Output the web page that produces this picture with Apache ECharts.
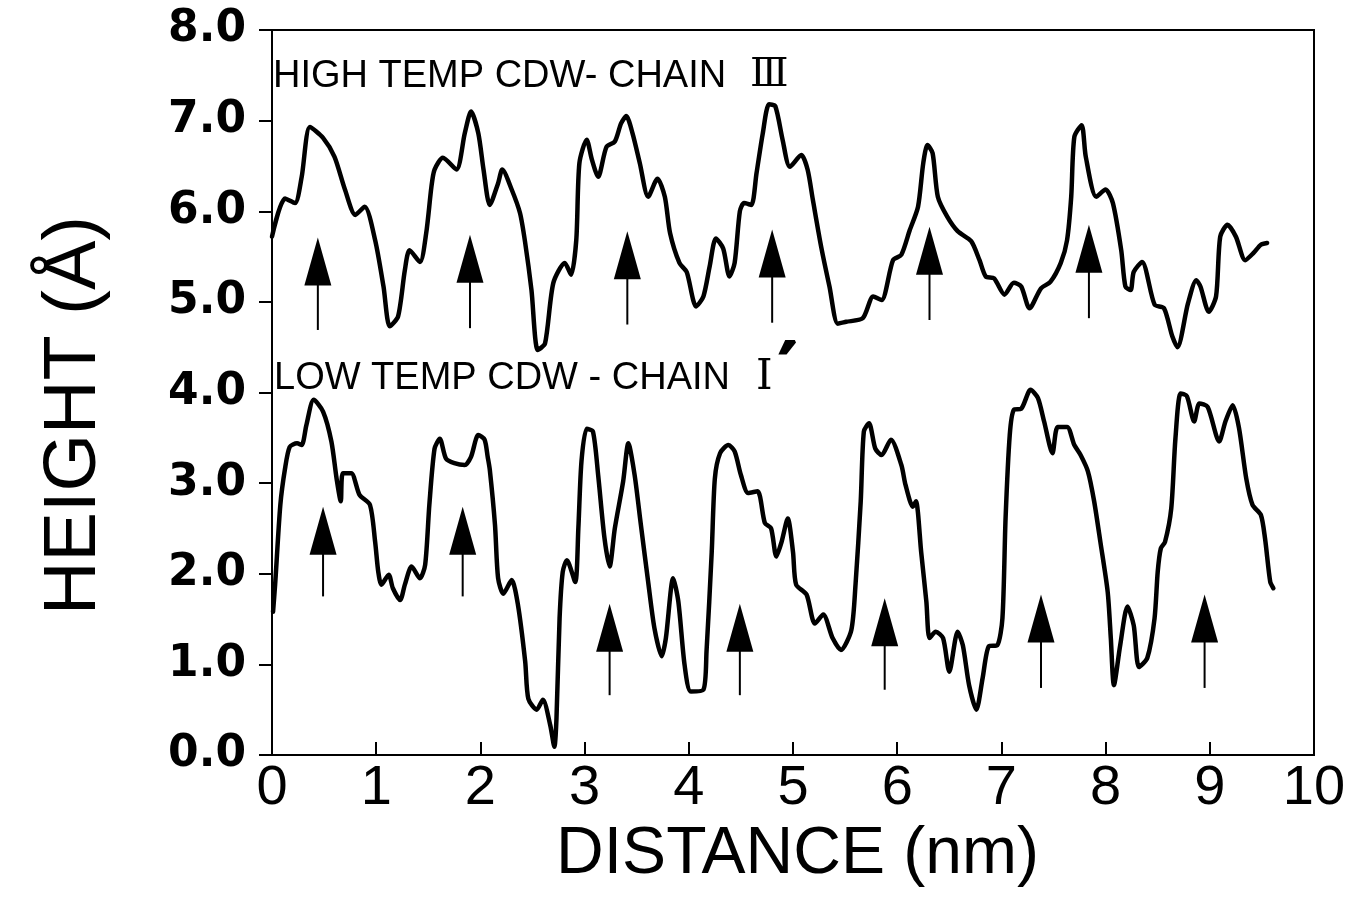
<!DOCTYPE html>
<html>
<head>
<meta charset="utf-8">
<script src="https://cdn.jsdelivr.net/npm/echarts@6/dist/echarts.min.js"></script>
<style>
html,body{margin:0;padding:0;background:#fff;}
#chart{width:1357px;height:906px;}
</style>
</head>
<body>
<div id="chart"></div>
<script>
// ---- data ----
const highX = [0.00,0.125,0.22,0.285,0.364,0.49,0.60,0.70,0.80,0.89,0.99,1.07,1.13,1.21,1.275,1.32,1.42,1.48,1.53,1.56,1.64,1.77,1.85,1.91,1.98,2.03,2.09,2.17,2.21,2.30,2.38,2.43,2.49,2.55,2.62,2.70,2.81,2.87,2.92,2.95,3.02,3.07,3.13,3.21,3.29,3.35,3.40,3.46,3.53,3.61,3.70,3.77,3.82,3.91,3.98,4.07,4.14,4.20,4.26,4.33,4.39,4.44,4.49,4.53,4.60,4.65,4.71,4.77,4.83,4.90,4.97,5.08,5.14,5.19,5.27,5.35,5.43,5.51,5.67,5.77,5.85,5.96,6.04,6.12,6.20,6.25,6.29,6.34,6.39,6.48,6.58,6.71,6.79,6.85,6.93,7.03,7.12,7.19,7.27,7.38,7.47,7.57,7.63,7.67,7.70,7.77,7.81,7.91,8.00,8.07,8.15,8.19,8.24,8.27,8.35,8.47,8.56,8.64,8.69,8.79,8.87,8.91,8.99,9.06,9.10,9.17,9.25,9.34,9.42,9.49,9.55];
const highY = [5.72,6.14,6.09,6.38,6.93,6.81,6.60,6.24,5.96,6.05,5.68,5.17,4.73,4.84,5.35,5.57,5.44,5.76,6.27,6.46,6.59,6.46,6.86,7.10,6.86,6.46,6.07,6.31,6.46,6.24,5.98,5.65,5.13,4.47,4.54,5.21,5.43,5.30,5.68,6.53,6.79,6.57,6.38,6.71,6.77,6.97,7.05,6.86,6.53,6.16,6.36,6.16,5.76,5.43,5.33,4.95,5.06,5.39,5.70,5.59,5.28,5.43,6.00,6.09,6.07,6.42,6.86,7.18,7.16,6.79,6.49,6.62,6.46,6.13,5.61,5.17,4.76,4.78,4.82,5.06,5.02,5.46,5.52,5.79,6.05,6.53,6.73,6.64,6.16,5.94,5.78,5.67,5.46,5.28,5.26,5.08,5.21,5.17,4.93,5.15,5.22,5.43,5.68,6.16,6.82,6.95,6.60,6.16,6.24,6.09,5.57,5.17,5.13,5.33,5.44,4.97,4.93,4.62,4.50,4.98,5.24,5.17,4.89,5.06,5.72,5.85,5.72,5.46,5.54,5.63,5.65];

const lowX = [0.01,0.03,0.08,0.125,0.17,0.24,0.285,0.33,0.40,0.49,0.57,0.62,0.66,0.68,0.76,0.84,0.94,0.99,1.02,1.05,1.12,1.16,1.23,1.275,1.34,1.42,1.47,1.51,1.56,1.61,1.67,1.75,1.85,1.91,1.98,2.04,2.07,2.09,2.14,2.17,2.22,2.30,2.36,2.43,2.46,2.54,2.60,2.67,2.71,2.73,2.76,2.79,2.83,2.91,2.94,2.97,3.02,3.08,3.13,3.19,3.24,3.29,3.37,3.42,3.48,3.54,3.61,3.67,3.74,3.78,3.85,3.90,3.96,4.02,4.14,4.17,4.22,4.25,4.30,4.38,4.44,4.50,4.57,4.66,4.73,4.79,4.84,4.89,4.95,5.00,5.03,5.13,5.21,5.29,5.38,5.46,5.56,5.60,5.65,5.68,5.73,5.79,5.85,5.94,6.04,6.08,6.15,6.18,6.23,6.28,6.31,6.37,6.44,6.50,6.58,6.63,6.69,6.76,6.82,6.88,6.96,7.01,7.04,7.08,7.12,7.19,7.28,7.35,7.41,7.49,7.54,7.63,7.70,7.76,7.83,7.89,7.95,8.02,8.05,8.08,8.14,8.21,8.27,8.32,8.40,8.47,8.50,8.53,8.57,8.63,8.67,8.72,8.78,8.85,8.90,8.98,9.09,9.15,9.22,9.28,9.35,9.41,9.49,9.53,9.58,9.61];
const lowY = [1.58,1.88,2.76,3.16,3.40,3.44,3.42,3.64,3.92,3.79,3.46,3.05,2.80,3.11,3.11,2.87,2.76,2.35,2.02,1.88,1.99,1.84,1.71,1.88,2.08,1.95,2.10,2.76,3.38,3.49,3.27,3.22,3.20,3.29,3.53,3.48,3.29,3.15,2.54,1.95,1.78,1.93,1.66,1.03,0.62,0.50,0.61,0.33,0.09,0.40,1.51,2.02,2.15,1.91,2.50,3.24,3.60,3.57,3.09,2.40,2.08,2.50,3.02,3.44,3.09,2.54,1.91,1.40,1.09,1.29,1.95,1.69,0.99,0.70,0.72,1.14,2.24,3.05,3.33,3.42,3.35,3.09,2.89,2.91,2.56,2.50,2.19,2.35,2.61,2.24,1.88,1.77,1.45,1.55,1.29,1.16,1.38,1.88,2.80,3.57,3.66,3.38,3.31,3.48,3.20,2.98,2.74,2.80,2.24,1.69,1.29,1.36,1.29,0.92,1.36,1.21,0.77,0.50,0.85,1.20,1.21,1.51,2.61,3.53,3.81,3.82,4.03,3.94,3.68,3.33,3.62,3.62,3.42,3.31,3.13,2.80,2.35,1.80,1.29,0.77,1.21,1.64,1.43,0.97,1.07,1.51,2.02,2.28,2.35,2.72,3.49,3.99,3.96,3.68,3.88,3.84,3.46,3.68,3.86,3.61,3.05,2.76,2.65,2.39,1.91,1.84];

// arrows: x position, tip height, tail height
const highArrowX    = [0.44, 1.90, 3.41, 4.80, 6.31, 7.84];
const highArrowTip  = [5.71, 5.74, 5.78, 5.80, 5.83, 5.85];
const highArrowTail = [4.69, 4.71, 4.75, 4.77, 4.80, 4.82];
const lowArrowX     = [0.49, 1.83, 3.24, 4.49, 5.88, 7.38, 8.95];
const lowArrowTip   = [2.74, 2.74, 1.67, 1.67, 1.73, 1.77, 1.77];
const lowArrowTail  = [1.75, 1.75, 0.66, 0.66, 0.72, 0.74, 0.74];

const xTicks = [0,1,2,3,4,5,6,7,8,9,10];
const yTicks = ['0.0','1.0','2.0','3.0','4.0','5.0','6.0','7.0','8.0'];

const highTitle = 'HIGH TEMP CDW- CHAIN ';
const highNumeral = 'Ⅲ';
const lowTitle = 'LOW TEMP CDW - CHAIN ';
const lowNumeral = 'Ⅰ';
const lowPrime = '′';

// ---- build ----
const zip = (a, b) => a.map((v, i) => [v, b[i]]);
const arrowData = highArrowX.map((x, i) => [x, highArrowTip[i], highArrowTail[i]])
  .concat(lowArrowX.map((x, i) => [x, lowArrowTip[i], lowArrowTail[i]]));

const chart = echarts.init(document.getElementById('chart'), null, {renderer: 'canvas'});
const HEAD_W = 27, HEAD_H = 48;
const SANS = '"Liberation Sans", Arial, sans-serif';
const SERIF = '"DejaVu Serif", "Liberation Serif", serif';

chart.setOption({
  backgroundColor: '#fff',
  animation: false,
  grid: {left: 272, right: 43, top: 30, bottom: 151, show: true, borderColor: '#000', borderWidth: 2, backgroundColor: 'transparent'},
  xAxis: {
    type: 'value', min: 0, max: 10, interval: 1,
    name: 'DISTANCE (nm)', nameLocation: 'middle', nameGap: 62,
    nameTextStyle: {fontFamily: SANS, fontSize: 66, color: '#000', padding: [0, 0, 0, 9]},
    axisLine: {show: true, lineStyle: {color: '#000', width: 2}},
    axisTick: {show: true, inside: true, length: 13, lineStyle: {color: '#000', width: 2}},
    axisLabel: {margin: 6, fontFamily: '"Liberation Sans Narrow", "Liberation Sans", Arial, sans-serif', fontSize: 56, color: '#000',
      formatter: v => String(xTicks[Math.round(v)])},
    splitLine: {show: false}
  },
  yAxis: {
    type: 'value', min: 0, max: 8, interval: 1,
    name: 'HEIGHT (Å)', nameLocation: 'middle', nameGap: 160, nameRotate: 90,
    nameTextStyle: {fontFamily: SANS, fontSize: 74, color: '#000', padding: [0, 46, 0, 0]},
    axisLine: {show: true, lineStyle: {color: '#000', width: 2}},
    axisTick: {show: true, inside: false, length: 13, lineStyle: {color: '#000', width: 2}},
    axisLabel: {margin: 26, fontFamily: '"DejaVu Sans", sans-serif', fontWeight: 'bold', fontSize: 44, color: '#000',
      padding: [10, 0, 0, 0], formatter: v => yTicks[Math.round(v)]},
    splitLine: {show: false}
  },
  series: [
    {type: 'line', data: zip(highX, highY), showSymbol: false, smooth: 0.25,
     lineStyle: {color: '#000', width: 4.5, join: 'round', cap: 'round'}},
    {type: 'line', data: zip(lowX, lowY), showSymbol: false, smooth: 0.25,
     lineStyle: {color: '#000', width: 4.5, join: 'round', cap: 'round'}},
    {type: 'custom', data: arrowData, encode: {x: 0, y: [1, 2]},
     renderItem: function (params, api) {
       const tip = api.coord([api.value(0), api.value(1)]);
       const tail = api.coord([api.value(0), api.value(2)]);
       return {type: 'group', children: [
         {type: 'line', shape: {x1: tip[0], y1: tip[1] + HEAD_H - 2, x2: tail[0], y2: tail[1]}, style: {stroke: '#000', lineWidth: 2}},
         {type: 'polygon', shape: {points: [[tip[0], tip[1]], [tip[0] - HEAD_W / 2, tip[1] + HEAD_H], [tip[0] + HEAD_W / 2, tip[1] + HEAD_H]]}, style: {fill: '#000'}}
       ]};
     }}
  ],
  graphic: [
    {type: 'text', left: 273, top: 58, style: {text: highTitle, font: '38px ' + SANS, fill: '#000'}},
    {type: 'text', left: 750, top: 56, style: {text: highNumeral, font: '40px ' + SERIF, fill: '#000'}},
    {type: 'text', left: 274, top: 360, style: {text: lowTitle, font: '38px ' + SANS, fill: '#000'}},
    {type: 'text', left: 756, top: 357, style: {text: lowNumeral, font: '42px ' + SERIF, fill: '#000'}},
    {type: 'text', left: 778, top: 338, style: {text: lowPrime, font: 'bold 64px "DejaVu Sans", sans-serif', fill: '#000', stroke: '#000', lineWidth: 3}}
  ]
});
</script>
</body>
</html>
